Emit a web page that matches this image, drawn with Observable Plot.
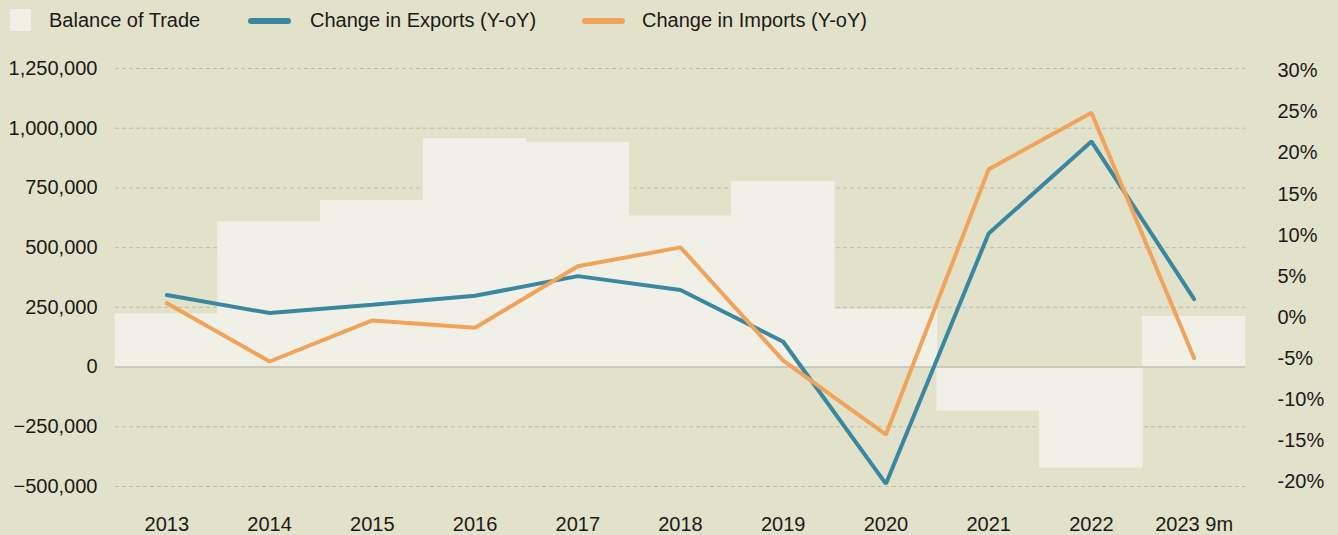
<!DOCTYPE html>
<html>
<head>
<meta charset="utf-8">
<script src="https://cdn.jsdelivr.net/npm/d3@7"></script>
<script src="https://cdn.jsdelivr.net/npm/@observablehq/plot@0.6"></script>
<style>
  html, body { margin: 0; padding: 0; background: #e2e1c9; }
  body { width: 1338px; height: 535px; overflow: hidden; font-family: "Liberation Sans", Arial, sans-serif; color: #1a1a1a; }
  #legend { position: relative; height: 45px; font-size: 20px; }
  #legend .sw { position: absolute; }
  #legend .lbl { position: absolute; top: 9px; line-height: 22px; white-space: nowrap; }
  #chart svg { display: block; }
</style>
</head>
<body>
<div id="legend"></div>
<div id="chart"></div>
<script>
// ---- data ----
const years = ["2013", "2014", "2015", "2016", "2017", "2018", "2019", "2020", "2021", "2022", "2023 9m"];
const balanceOfTrade = [223000, 608000, 697000, 956000, 940000, 633000, 777000, 241000, -185000, -423000, 212000];
const exportsChange = [2.9, 0.7, 1.7, 2.8, 5.2, 3.5, -2.8, -20.1, 10.4, 21.6, 2.4];
const importsChange = [1.9, -5.2, -0.2, -1.1, 6.4, 8.7, -5.1, -14.1, 18.2, 25.1, -4.8];
const leftTicks = [-500000, -250000, 0, 250000, 500000, 750000, 1000000, 1250000];
const rightTicks = [-20, -15, -10, -5, 0, 5, 10, 15, 20, 25, 30];
const seriesNames = ["Balance of Trade", "Change in Exports (Y-oY)", "Change in Imports (Y-oY)"];

// ---- styles ----
const barColor = "#f1f0e7";
const exportColor = "#3a88a0";
const importColor = "#f0a35a";

// percent (right axis) -> left-axis units
const pctOffset = 202083, pctScale = 34375;
const toLeft = p => pctOffset + pctScale * p;
const fromLeft = v => (v - pctOffset) / pctScale;

const bars = years.map((y, i) => ({year: y, value: balanceOfTrade[i]}));
const exp = years.map((y, i) => ({year: y, value: toLeft(exportsChange[i])}));
const imp = years.map((y, i) => ({year: y, value: toLeft(importsChange[i])}));

// ---- legend ----
const legend = document.getElementById("legend");
legend.innerHTML = `
  <div class="sw" style="left:10px;top:9px;width:21px;height:22px;background:${barColor}"></div>
  <div class="lbl" style="left:49px">${seriesNames[0]}</div>
  <div class="sw" style="left:248px;top:18px;width:43px;height:6px;border-radius:3px;background:${exportColor}"></div>
  <div class="lbl" style="left:310px">${seriesNames[1]}</div>
  <div class="sw" style="left:582px;top:18px;width:43px;height:6px;border-radius:3px;background:${importColor}"></div>
  <div class="lbl" style="left:642px">${seriesNames[2]}</div>
`;

const fmt = d3.format(",");

const chart = Plot.plot({
  width: 1338,
  height: 490,
  marginLeft: 115,
  marginRight: 93,
  marginTop: 23,
  marginBottom: 49,
  style: {
    fontFamily: "'Liberation Sans', Arial, sans-serif",
    fontSize: "20px",
    background: "transparent",
    color: "#1a1a1a"
  },
  x: {type: "band", domain: years, padding: 0, round: false},
  y: {domain: [-500000, 1250000]},
  marks: [
    Plot.gridY(leftTicks.filter(d => d !== 0), {stroke: "#bcbcae", strokeOpacity: 1, strokeDasharray: "4,3", strokeWidth: 1}),
    Plot.barY(bars, {x: "year", y: "value", fill: barColor, insetLeft: -0.4, insetRight: -0.4}),
    Plot.ruleY([0], {stroke: "#c2c2b4", strokeWidth: 1.5}),
    Plot.line(exp, {x: "year", y: "value", stroke: exportColor, strokeWidth: 4, strokeLinecap: "round", strokeLinejoin: "miter"}),
    Plot.line(imp, {x: "year", y: "value", stroke: importColor, strokeWidth: 4, strokeLinecap: "round", strokeLinejoin: "miter"}),
    Plot.axisY(leftTicks, {anchor: "left", tickSize: 0, tickPadding: 18, tickFormat: d => fmt(d), label: null}),
    Plot.axisY(rightTicks.map(toLeft), {anchor: "right", tickSize: 0, tickPadding: 32, textAnchor: "start", dy: -1.5, tickFormat: d => Math.round(fromLeft(d)) + "%", label: null}),
    Plot.axisX({tickSize: 0, tickPadding: 30, label: null})
  ]
});
document.getElementById("chart").appendChild(chart);
</script>
</body>
</html>
